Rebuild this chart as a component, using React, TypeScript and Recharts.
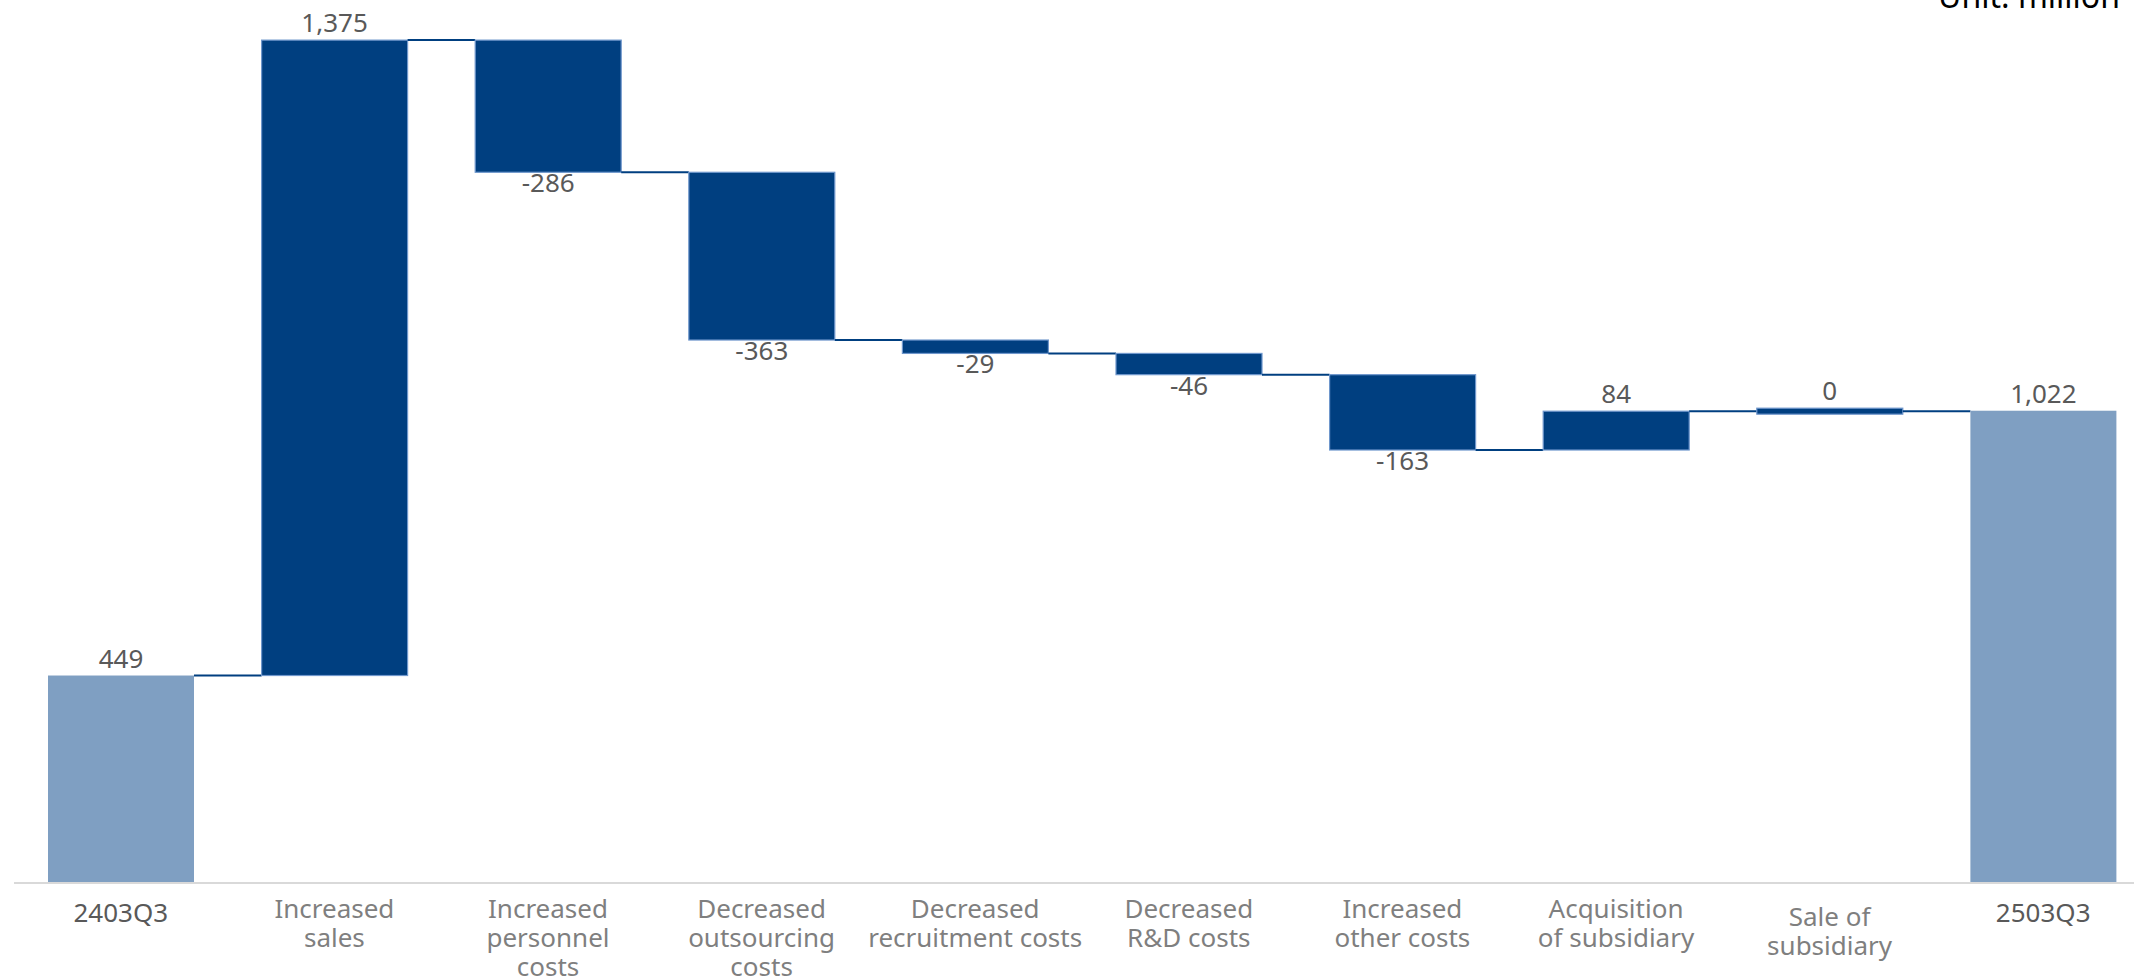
import React from 'react';
import { BarChart, Bar, XAxis, YAxis } from 'recharts';

// ---- data ----
const categories: string[][] = [
  ['2403Q3'],
  ['Increased', 'sales'],
  ['Increased', 'personnel', 'costs'],
  ['Decreased', 'outsourcing', 'costs'],
  ['Decreased', 'recruitment costs'],
  ['Decreased', 'R&D costs'],
  ['Increased', 'other costs'],
  ['Acquisition', 'of subsidiary'],
  ['Sale of', 'subsidiary'],
  ['2503Q3'],
];
const values: number[] = [449, 1375, -286, -363, -29, -46, -163, 84, 0, 1022];
const totalFlags: boolean[] = [true, false, false, false, false, false, false, false, false, true];
const unitLabel = 'Unit: million';

// ---- layout / style ----
const CHART_W = 2150;
const CHART_H = 976;
const MARGIN = { top: 5, right: 0, left: 14, bottom: 0 };
const STEP = (CHART_W - MARGIN.left - MARGIN.right) / categories.length;
const DARK = '#003F80';
const LIGHT = '#7F9FC2';
const FONT = '"Noto Sans", "Open Sans", sans-serif';
const tickFirstBaseline: Record<number, number> = { 0: 39, 8: 43, 9: 39 };

type Row = { key: string; lines: string[]; range: [number, number]; value: number; total: boolean };

const data: Row[] = (() => {
  let run = 0;
  return categories.map((lines, i) => {
    const v = values[i];
    let range: [number, number];
    if (totalFlags[i]) {
      range = [0, v];
      run = v;
    } else {
      const start = run;
      run = start + v;
      range = [Math.min(start, run), Math.max(start, run)];
    }
    return { key: lines.join(' '), lines, range, value: v, total: totalFlags[i] };
  });
})();

const fmt = (v: number) => v.toLocaleString('en-US');

const WaterfallShape = (props: any) => {
  const { x, y, width, height, payload, index } = props;
  const row: Row = payload;
  let top = Math.min(y, y + height);
  let h = Math.abs(height);
  if (h < 6) {
    const mid = top + h / 2;
    top = mid - 3;
    h = 6;
  }
  const bottom = top + h;
  const isNeg = !row.total && row.value < 0;
  const isZero = !row.total && row.value === 0;
  const endY = isZero ? top + h / 2 : isNeg ? bottom : top;
  const gap = STEP - width;
  const cx = x + width / 2;
  return (
    <g>
      <rect
        x={x}
        y={top}
        width={width}
        height={h}
        fill={row.total ? LIGHT : DARK}
        stroke={row.total ? 'none' : '#6F97CC'}
        strokeWidth={row.total ? 0 : 1.2}
      />
      {index < data.length - 1 && (
        <line x1={x + width} x2={x + width + gap} y1={endY} y2={endY} stroke={DARK} strokeWidth={2} />
      )}
      <text
        x={cx}
        y={isNeg ? bottom + 20 : top - 8}
        textAnchor="middle"
        fill="#595959"
        fontSize={26}
        fontFamily={FONT}
      >
        {fmt(row.value)}
      </text>
    </g>
  );
};

const CategoryTick = (props: any) => {
  const { x, y, payload, index } = props;
  const row = data[index] ?? data.find((d) => d.key === payload.value);
  const lines = row ? row.lines : [String(payload.value)];
  const isTot = row ? row.total : false;
  const first = tickFirstBaseline[index] ?? 35;
  return (
    <text
      x={x}
      y={y + first}
      textAnchor="middle"
      fill={isTot ? '#595959' : '#7F7F7F'}
      fontSize={26}
      fontFamily={FONT}
    >
      {lines.map((ln, i) => (
        <tspan key={i} x={x} dy={i === 0 ? 0 : 29}>
          {ln}
        </tspan>
      ))}
    </text>
  );
};

export default function App() {
  return (
    <div
      style={{
        position: 'fixed',
        left: 0,
        top: 0,
        width: 2134,
        height: 976,
        overflow: 'hidden',
        background: '#fff',
      }}
    >
      <BarChart width={CHART_W} height={CHART_H} data={data} margin={MARGIN} barSize={146}>
        <XAxis
          dataKey="key"
          interval={0}
          height={93}
          tickLine={false}
          tickSize={0}
          tickMargin={0}
          axisLine={{ stroke: '#D9D9D9', strokeWidth: 2 }}
          tick={<CategoryTick />}
        />
        <YAxis hide domain={[0, 1900]} />
        <Bar dataKey="range" isAnimationActive={false} shape={WaterfallShape} />
      </BarChart>
      <div
        style={{
          position: 'absolute',
          right: 14,
          top: -20,
          fontSize: 32,
          lineHeight: '32px',
          fontFamily: FONT,
          color: '#000',
          whiteSpace: 'nowrap',
        }}
      >
        {unitLabel}
      </div>
    </div>
  );
}
